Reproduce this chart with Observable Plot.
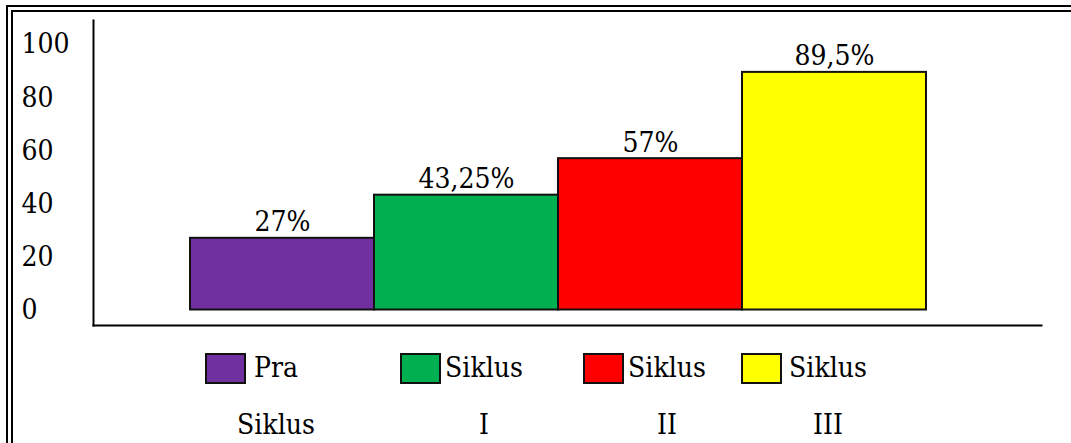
<!DOCTYPE html>
<html>
<head>
<meta charset="utf-8">
<script src="https://cdn.jsdelivr.net/npm/d3@7"></script>
<script src="https://cdn.jsdelivr.net/npm/@observablehq/plot@0.6"></script>
<style>
  html, body { margin: 0; padding: 0; background: #fff; overflow: hidden; }
  html { width: 1071px; height: 443px; }
  body { width: 1071px; height: 443px; position: relative; font-family: "DejaVu Serif Condensed", "DejaVu Serif", serif; font-stretch: condensed; }
  .hl { position: absolute; height: 2px; width: 1065px; background: #000; }
  .vl { position: absolute; width: 2px; height: 440px; background: #000; }
  #chart { position: absolute; left: 0; top: 0; }
  .sw { position: absolute; width: 41px; height: 31px; box-sizing: border-box; border: 2px solid #111; }
  .lab { position: absolute; width: 200px; text-align: center; font-size: 28px; line-height: 57px; color: #000; }
  svg text { font-stretch: condensed; }
  #cover { position: absolute; left: 1045px; top: 14px; width: 26px; height: 429px; background: #fff; z-index: 10; }
</style>
</head>
<body>
<div class="hl" style="left:6px;top:5px"></div>
<div class="vl" style="left:6px;top:5px"></div>
<div class="hl" style="left:11px;top:10px"></div>
<div class="vl" style="left:11px;top:10px"></div>
<div id="chart"></div>
<div id="legend"></div>
<div id="cover"></div>
<script>
const categories = ["Pra Siklus", "Siklus I", "Siklus II", "Siklus III"];
const values = [27, 43.25, 57, 89.5];
const colors = ["#7030A0", "#00B050", "#FF0000", "#FFFF00"];
const yTicks = [0, 20, 40, 60, 80, 100];

const data = categories.map((c, i) => ({cat: c, value: values[i]}));
const fmt = v => String(v).replace(".", ",") + "%";
const serif = "DejaVu Serif Condensed, DejaVu Serif, serif";

const chart = Plot.plot({
  width: 1071,
  height: 340,
  marginTop: 20,
  marginBottom: 15,
  marginLeft: 93,
  marginRight: 30,
  style: {fontFamily: serif, fontSize: "28px", background: "transparent", color: "#000", overflow: "visible"},
  x: {domain: categories, padding: 0, insetLeft: 97, insetRight: 115, axis: null},
  y: {domain: [0, 100], insetTop: 24, insetBottom: 15.5, axis: null},
  color: {domain: categories, range: colors},
  marks: [
    Plot.axisY(yTicks, {anchor: "left", tickSize: 0, tickPadding: 0, textAnchor: "start", dx: -72, fontSize: 28, fontFamily: serif, fill: "#000", label: null}),
    Plot.barY(data, {x: "cat", y: "value", fill: "cat", stroke: "#111", strokeWidth: 2}),
    Plot.text(data, {x: "cat", y: "value", text: d => fmt(d.value), lineAnchor: "bottom", dy: -7, fontSize: 28, fontFamily: serif, fill: "#000"}),
    Plot.frame({anchor: "left", strokeWidth: 2, stroke: "#000"}),
    Plot.frame({anchor: "bottom", strokeWidth: 2, stroke: "#000"})
  ]
});
document.getElementById("chart").appendChild(chart);

// legend
const swLeft = [205, 400, 583, 741];
const labCenter = [276, 484, 667, 828];
const legend = document.getElementById("legend");
categories.forEach((c, i) => {
  const sw = document.createElement("div");
  sw.className = "sw";
  sw.style.left = swLeft[i] + "px";
  sw.style.top = "353px";
  sw.style.background = colors[i];
  legend.appendChild(sw);
  const parts = c.split(" ");
  const lab = document.createElement("div");
  lab.className = "lab";
  lab.style.left = (labCenter[i] - 100) + "px";
  lab.style.top = "339px";
  lab.innerHTML = parts[0] + "<br>" + parts.slice(1).join(" ");
  legend.appendChild(lab);
});
</script>
</body>
</html>
